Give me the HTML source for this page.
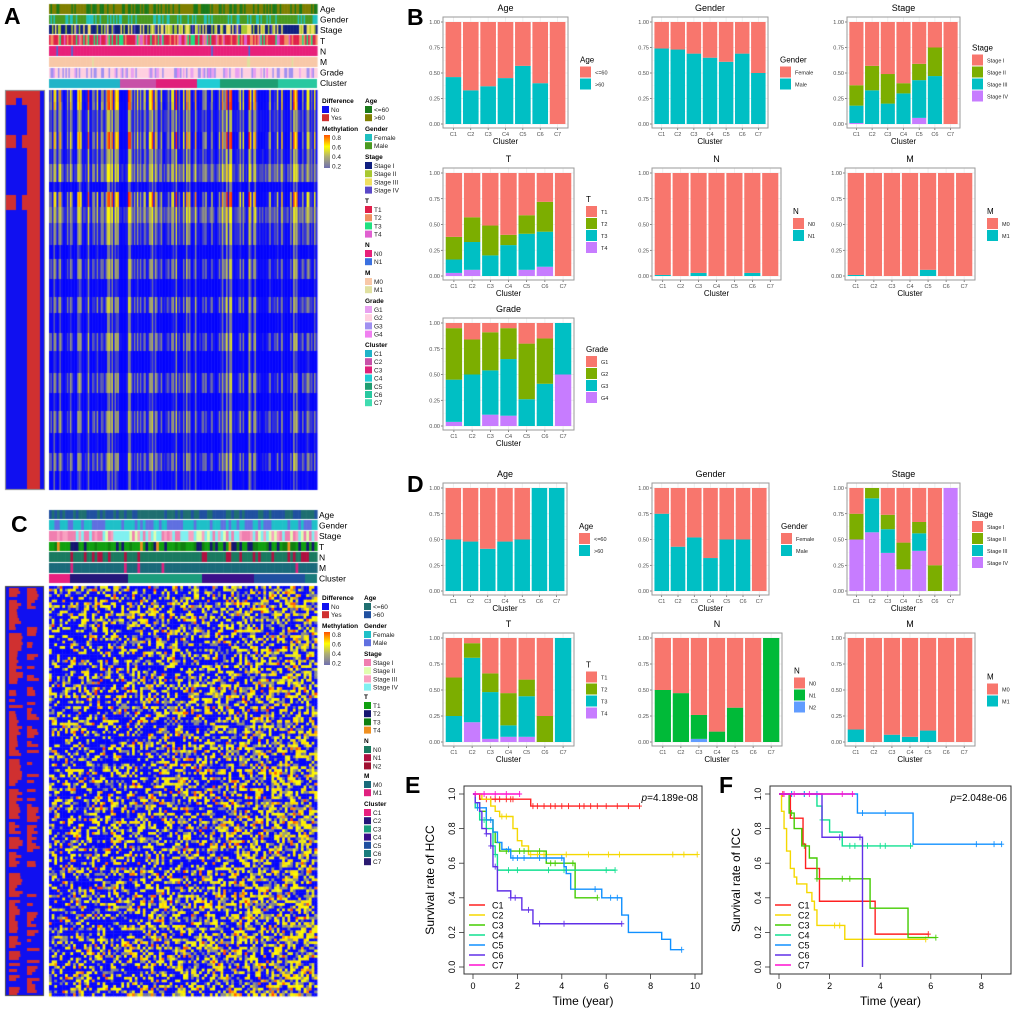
<!DOCTYPE html>
<html><head><meta charset="utf-8">
<style>
html,body{margin:0;padding:0;background:#fff;}
#wrap{position:relative;width:1020px;height:1012px;overflow:hidden;font-family:"Liberation Sans",sans-serif;}
canvas,svg{position:absolute;left:0;top:0;}
</style></head>
<body>
<div id="wrap">
<canvas id="cv" width="1020" height="1012"></canvas>
<svg id="sv" width="1020" height="1012" xmlns="http://www.w3.org/2000/svg"></svg>
</div>
<script>
// ---------- bar chart data (fractions per cluster) ----------
const clusters = ['C1','C2','C3','C4','C5','C6','C7'];
const bAgeOld = [0.46,0.33,0.37,0.45,0.57,0.40,0];
const bMale = [0.74,0.73,0.69,0.65,0.61,0.69,0.50];
const bStageII = [0.20,0.24,0.29,0.10,0.16,0.28,0];
const bStageIII = [0.17,0.33,0.20,0.30,0.37,0.47,0];
const bStageIV = [0.01,0,0,0,0.06,0,0];
const bT2 = [0.22,0.24,0.29,0.10,0.18,0.29,0];
const bT3 = [0.13,0.27,0.20,0.30,0.35,0.34,0];
const bT4 = [0.03,0.06,0,0,0.06,0.09,0];
const bN1 = [0.01,0,0.03,0,0,0.03,0];
const bM1 = [0.01,0,0,0,0.06,0,0];
const bG2 = [0.50,0.34,0.37,0.30,0.54,0.44,0];
const bG3 = [0.41,0.50,0.43,0.55,0.26,0.41,0.50];
const bG4 = [0.04,0,0.11,0.10,0,0,0.50];
const dAgeOld = [0.50,0.48,0.41,0.48,0.50,1,1];
const dMale = [0.75,0.43,0.52,0.32,0.50,0.50,0];
const dStageII = [0.25,0.10,0.14,0.26,0.11,0.25,0];
const dStageIII = [0,0.33,0.23,0,0.17,0,0];
const dStageIV = [0.50,0.57,0.37,0.21,0.39,0,1];
const dT2 = [0.37,0.14,0.18,0.31,0.16,0.25,0];
const dT3 = [0.25,0.62,0.45,0.11,0.39,0,1];
const dT4 = [0,0.19,0.03,0.05,0.05,0,0];
const dN1 = [0.50,0.47,0.23,0.10,0.33,0,1];
const dN2 = [0,0,0.03,0,0,0,0];
const dM1 = [0.12,0,0.07,0.05,0.11,0,0];
const yTicks = [0,0.25,0.5,0.75,1];
const yTickLabels = ['0.00','0.25','0.50','0.75','1.00'];

// ---------- survival data ----------
const survNames = ['C1','C2','C3','C4','C5','C6','C7'];
const survColors = ['#ff2020','#f5d800','#44cc00','#10e090','#1090ff','#6030e8','#ff10d0'];
const eTimes = [[0.3,2.6],[0.4,0.8,1.0,1.2,1.8,2.0,2.2,2.5],[0.1,0.3,0.6,0.9,1.0,1.2,3.3,4.6],[0.1,0.3,0.6,0.9,1.0,1.1],[0.1,0.2,0.6,0.9,1.1,1.3,1.7,4.1,4.2,4.4,5.8,6.7,7.0,8.5,8.9],[0.1,0.3,0.4,0.6,0.8,0.9,1.1,1.7,2.2,2.7],[]];
const eSurv = [[0.97,0.93],[0.97,0.93,0.90,0.87,0.80,0.73,0.70,0.65],[0.95,0.90,0.85,0.78,0.72,0.67,0.60,0.40],[0.92,0.85,0.80,0.70,0.65,0.56],[0.95,0.92,0.85,0.78,0.72,0.68,0.63,0.58,0.54,0.45,0.40,0.30,0.20,0.16,0.10],[0.95,0.90,0.80,0.77,0.70,0.58,0.44,0.40,0.33,0.25],[]];
const eEnd = [7.5,10.1,5.6,6.4,9.4,6.7,2.1];
const eCens = [[0.6,0.8,1.0,1.2,1.5,1.7,1.8,2.7,2.9,3.2,3.5,3.7,4.0,4.3,4.8,5.0,5.3,5.6,6.0,6.5,7.0,7.5],[1.3,1.5,2.6,2.9,3.2,4.2,5.2,6.1,6.6,9.0,9.5,10.1],[1.5,2.1,2.3,3.0,3.5,3.7,4.5,5.6],[0.5,1.0,1.6,2.0,3.4,4.1,6.0,6.4],[0.2,0.8,1.6,1.8,2.0,2.3,3.0,3.3,4.0,5.5,6.2,6.5,9.4],[0.6,0.8,1.0,1.7,1.9,2.5,3.0,4.1,6.7],[0.1,0.5,1.0,1.5,2.1]];
const fTimes = [[0.45,0.95,1.05,1.6,3.8],[0.1,0.2,0.3,0.45,0.6,0.7,1.1,1.3,1.4,1.5,2.6],[0.4,0.6,0.9,1.2,1.5,3.6,5.1],[1.5,1.7,2.0,2.5],[3.1,5.3],[1.7,3.3],[]];
const fSurv = [[0.86,0.71,0.57,0.38,0.19],[0.90,0.80,0.67,0.57,0.52,0.48,0.43,0.38,0.33,0.24,0.16],[0.89,0.80,0.70,0.63,0.51,0.34,0.17],[0.93,0.85,0.78,0.70],[0.89,0.71],[0.75,0.0],[]];
const fEnd = [5.9,5.8,6.2,5.3,8.8,3.3,3.0];
const fCens = [[0.15,5.9],[2.2,2.4,5.8],[0.5,1.0,1.5,2.5,2.8,6.2],[0.5,1.0,1.7,2.8,3.0,3.5,4.0,4.2,5.2],[0.5,1.0,1.5,3.3,4.2,7.8,8.5,8.8],[2.4,3.2],[0.2,0.6,1.2,2.5,2.9]];
const eXTicks = [0,2,4,6,8,10];
const fXTicks = [0,2,4,6,8];
const survYTicks = [0,0.2,0.4,0.6,0.8,1.0];

const NS='http://www.w3.org/2000/svg';
const sv=document.getElementById('sv');
function mk(tag,attrs,parent,text){const e=document.createElementNS(NS,tag);for(const k in attrs)e.setAttribute(k,attrs[k]);if(text!==undefined)e.textContent=text;(parent||sv).appendChild(e);return e;}
function txt(x,y,s,size,opts,parent){const o=Object.assign({x:x,y:y,'font-size':size,'font-family':'Liberation Sans, sans-serif',fill:'#000'},opts||{});return mk('text',o,parent,s);}

// ---------- panel letters ----------
[['A',4,24],['B',407,25],['C',11,532],['D',407,492],['E',405,793],['F',719,793]].forEach(p=>{
  const t=txt(p[1],p[2],p[0],23,{'font-weight':'bold'});
  
  
});

// ---------- stacked bar panels ----------
const pal2=['#F8766D','#00BFC4'];
const pal4=['#F8766D','#7CAE00','#00BFC4','#C77CFF'];
const pal3=['#F8766D','#00BA38','#619CFF'];
function barPanel(id,f,title,levels,colors,layers){
  const g=mk('g',{});
  
  
  const py1=f.y0+5, py0=f.y1-4;
  const ys=v=>py0-v*(py0-py1);
  const unit=(f.x1-f.x0)/7.2;
  const xs=i=>f.x0+(i+0.6)*unit;
  mk('rect',{x:f.x0,y:f.y0,width:f.x1-f.x0,height:f.y1-f.y0,fill:'#fff'},g);
  yTicks.forEach((t,k)=>{
    mk('line',{x1:f.x0,x2:f.x1,y1:ys(t),y2:ys(t),stroke:'#ebebeb','stroke-width':0.8},g);
    if(k<4) mk('line',{x1:f.x0,x2:f.x1,y1:ys(t+0.125),y2:ys(t+0.125),stroke:'#f4f4f4','stroke-width':0.5},g);
    mk('line',{x1:f.x0-2,x2:f.x0,y1:ys(t),y2:ys(t),stroke:'#333','stroke-width':0.6},g);
    const l=txt(f.x0-3,ys(t)+2,yTickLabels[k],5.5,{'text-anchor':'end',fill:'#4d4d4d'},g);
    
    
  });
  clusters.forEach((c,i)=>{
    mk('line',{x1:xs(i),x2:xs(i),y1:f.y0,y2:f.y1,stroke:'#ebebeb','stroke-width':0.8},g);
  });
  clusters.forEach((c,i)=>{
    let cum=0;
    for(let L=layers.length-1;L>=0;L--){
      const v=layers[L][i];
      if(v>0){
        const r=mk('rect',{x:xs(i)-0.45*unit,width:0.9*unit,y:ys(cum+v),height:ys(cum)-ys(cum+v),fill:colors[L+1]},g);
        
        
      }
      cum+=v;
    }
    if(cum<1){
      const r=mk('rect',{x:xs(i)-0.45*unit,width:0.9*unit,y:ys(1),height:ys(cum)-ys(1),fill:colors[0]},g);
      
      
    }
    mk('line',{x1:xs(i),x2:xs(i),y1:f.y1,y2:f.y1+2,stroke:'#333','stroke-width':0.6},g);
    const l=txt(xs(i),f.y1+8,c,5.5,{'text-anchor':'middle',fill:'#4d4d4d'},g);
    
    
  });
  mk('rect',{x:f.x0,y:f.y0,width:f.x1-f.x0,height:f.y1-f.y0,fill:'none',stroke:'#9a9a9a','stroke-width':1},g);
  const xt=txt((f.x0+f.x1)/2,f.y1+16,'Cluster',8,{'text-anchor':'middle'},g);
  
  
  const tt=txt((f.x0+f.x1)/2,f.y0-6,title,9,{'text-anchor':'middle'},g);
  
  
  const n=levels.length, lx=f.x1+12, mid=(f.y0+f.y1)/2;
  const top=mid-(n*12+12)/2;
  const lt=txt(lx,top+8,title,8,{},g);
  
  
  levels.forEach((lv,k)=>{
    const r=mk('rect',{x:lx,y:top+12+k*12,width:11,height:11,fill:colors[k]},g);
    
    
    const l=txt(lx+15,top+20+k*12,lv,5.5,{fill:'#222'},g);
    
    
  });
}
barPanel('b-age-chart',{x0:443,x1:568,y0:17,y1:128},'Age',['<=60','>60'],pal2,[bAgeOld]);
barPanel('b-gender-chart',{x0:652,x1:768,y0:17,y1:128},'Gender',['Female','Male'],pal2,[bMale]);
barPanel('b-stage-chart',{x0:847,x1:960,y0:17,y1:128},'Stage',['Stage I','Stage II','Stage III','Stage IV'],pal4,[bStageII,bStageIII,bStageIV]);
barPanel('b-t-chart',{x0:443,x1:574,y0:168,y1:280},'T',['T1','T2','T3','T4'],pal4,[bT2,bT3,bT4]);
barPanel('b-n-chart',{x0:652,x1:781,y0:168,y1:280},'N',['N0','N1'],pal2,[bN1]);
barPanel('b-m-chart',{x0:845,x1:975,y0:168,y1:280},'M',['M0','M1'],pal2,[bM1]);
barPanel('b-grade-chart',{x0:443,x1:574,y0:318,y1:430},'Grade',['G1','G2','G3','G4'],pal4,[bG2,bG3,bG4]);
barPanel('d-age-chart',{x0:443,x1:567,y0:483,y1:595},'Age',['<=60','>60'],pal2,[dAgeOld]);
barPanel('d-gender-chart',{x0:652,x1:769,y0:483,y1:595},'Gender',['Female','Male'],pal2,[dMale]);
barPanel('d-stage-chart',{x0:847,x1:960,y0:483,y1:595},'Stage',['Stage I','Stage II','Stage III','Stage IV'],pal4,[dStageII,dStageIII,dStageIV]);
barPanel('d-t-chart',{x0:443,x1:574,y0:633,y1:746},'T',['T1','T2','T3','T4'],pal4,[dT2,dT3,dT4]);
barPanel('d-n-chart',{x0:652,x1:782,y0:633,y1:746},'N',['N0','N1','N2'],pal3,[dN1,dN2]);
barPanel('d-m-chart',{x0:845,x1:975,y0:633,y1:746},'M',['M0','M1'],pal2,[dM1]);

// ---------- survival panels ----------
function survPanel(id,box,x0px,pxPerYr,yTitle,pText,times,surv,ends,cens,xticks){
  const g=mk('g',{});
  
  
  const y1=794,y0=967;
  const ys=v=>y0-v*(y0-y1);
  const xs=t=>x0px+t*pxPerYr;
  survNames.forEach((nm,k)=>{
    let d='M'+xs(0)+' '+ys(1);
    times[k].forEach((t,j)=>{d+=' H'+xs(t)+' V'+ys(surv[k][j]);});
    d+=' H'+xs(ends[k]);
    const p=mk('path',{d:d,fill:'none',stroke:survColors[k],'stroke-width':1.4},g);
    
    
    cens[k].forEach(t=>{
      let s=1;times[k].forEach((tt,j)=>{if(tt<=t)s=surv[k][j];});
      const m=mk('path',{d:'M'+(xs(t)-2.5)+' '+ys(s)+' h5 M'+xs(t)+' '+(ys(s)-3)+' v6',stroke:survColors[k],'stroke-width':0.9,fill:'none'},g);
      
      
    });
  });
  mk('rect',{x:box.x0,y:box.y0,width:box.x1-box.x0,height:box.y1-box.y0,fill:'none',stroke:'#333','stroke-width':1},g);
  survYTicks.forEach(v=>{
    mk('line',{x1:box.x0-5,x2:box.x0,y1:ys(v),y2:ys(v),stroke:'#333','stroke-width':0.8},g);
    const l=txt(box.x0-9,ys(v),v.toFixed(1),9,{'text-anchor':'middle',transform:'rotate(-90 '+(box.x0-9)+' '+ys(v)+')'},g);
    
    
  });
  xticks.forEach(v=>{
    mk('line',{x1:xs(v),x2:xs(v),y1:box.y1,y2:box.y1+5,stroke:'#333','stroke-width':0.8},g);
    const l=txt(xs(v),box.y1+15,String(v),9,{'text-anchor':'middle'},g);
    
    
  });
  const xt=txt((box.x0+box.x1)/2,1005,'Time (year)',12,{'text-anchor':'middle'},g);
  
  
  const cy=(box.y0+box.y1)/2, cx=box.x0-30;
  const yt=txt(cx,cy,yTitle,12,{'text-anchor':'middle',transform:'rotate(-90 '+cx+' '+cy+')'},g);
  
  
  const pt=mk('text',{x:box.x1-4,y:801,'font-size':10,'text-anchor':'end','font-family':'Liberation Sans, sans-serif'},g);
  
  
  mk('tspan',{'font-style':'italic'},pt,'p');
  mk('tspan',{},pt,pText);
  survNames.forEach((nm,k)=>{
    const yy=905+k*10;
    const ln=mk('line',{x1:box.x0+5,x2:box.x0+21,y1:yy,y2:yy,stroke:survColors[k],'stroke-width':1.5},g);
    
    
    const l=txt(box.x0+28,yy+3.5,nm,9,{},g);
    
    
  });
}
survPanel('e-survival-chart',{x0:464,x1:702,y0:786,y1:974},473,22.2,'Survival rate of HCC','=4.189e-08',eTimes,eSurv,eEnd,eCens,eXTicks);
survPanel('f-survival-chart',{x0:770,x1:1011,y0:786,y1:974},779,25.3,'Survival rate of ICC','=2.048e-06',fTimes,fSurv,fEnd,fCens,fXTicks);

// ---------- heatmaps (canvas texture) ----------
const cv=document.getElementById('cv').getContext('2d');
let seed=12345;
function rnd(){seed|=0;seed=seed+0x6D2B79F5|0;let t=Math.imul(seed^seed>>>15,1|seed);t=t+Math.imul(t^t>>>7,61|t)^t;return((t^t>>>14)>>>0)/4294967296;}
function pick(w){let r=rnd(),c=0;for(let i=0;i<w.length;i++){c+=w[i];if(r<c)return i;}return w.length-1;}
const hs=[[0,[0,0,255]],[0.2,[10,10,250]],[0.3,[120,120,150]],[0.42,[170,170,100]],[0.55,[255,255,0]],[0.7,[255,160,0]],[0.85,[255,40,0]]];
function heat(v){if(v<=0)return 'rgb(0,0,255)';for(let i=1;i<hs.length;i++){if(v<=hs[i][0]){const a=hs[i-1],b=hs[i],f=(v-a[0])/(b[0]-a[0]);return 'rgb('+a[1].map((c,j)=>Math.round(c+(b[1][j]-c)*f)).join(',')+')';}}return 'rgb(255,40,0)';}
function track(x0,x1,y0,y1,n,w,cols){const cw=(x1-x0)/n;for(let j=0;j<n;j++){cv.fillStyle=cols[pick(w)];cv.fillRect(x0+j*cw,y0,cw+0.6,y1-y0);}}
function segs(x0,y0,y1,list){list.forEach(s=>{cv.fillStyle=s[2];cv.fillRect(s[0],y0,s[1]-s[0],y1-y0);});}
const aTr=[[4,14,[0.45,0.55],['#1a7a1a','#808000']],[15,24,[0.3,0.7],['#20c0c0','#4a9a20']],[25,34,[0.5,0.2,0.25,0.05],['#102080','#a8c830','#f0e060','#5a48c8']],[35,45,[0.55,0.15,0.2,0.1],['#e0204a','#f09060','#20e080','#e060d0']],[46,56,[0.98,0.02],['#e8207a','#3a70e0']],[57,67,[0.985,0.015],['#f8c8a8','#e0e0a0']],[68,78,[0.15,0.55,0.25,0.05],['#e8a0f0','#ffd0e0','#a090f0','#f080f0']]];
aTr.forEach(t=>track(49,317,t[0],t[1],180,t[2],t[3]));
segs(49,79,88,[[49,120,'#20b4c8'],[120,156,'#c850a8'],[156,197,'#e0207a'],[197,220,'#20ccd4'],[220,278,'#1e9e72'],[278,317,'#28c8a0']]);
const aCols=180, aw=268/aCols;
const colF=[];for(let j=0;j<aCols;j++)colF.push(Math.pow(rnd(),2.2));
const bandT={S:[0.08,0.8],G:[0.17,0.32],Y:[0.22,0.38],B:[0.04,0.3]};
const bands=[['S',12],['S',8],['G',22],['S',17],['G',15],['Y',18],['B',10],['S',15],['Y',16],['G',22],['B',14],['G',20],['B',18],['G',16],['B',20],['G',18],['B',22],['G',20],['B',18],['G',22],['B',20],['G',18],['B',19]];
let yy=90;
bands.forEach(b=>{const p=bandT[b[0]];for(let j=0;j<aCols;j++){const v=p[0]+p[1]*colF[j]+(rnd()-0.5)*0.08;cv.fillStyle=heat(v);cv.fillRect(49+j*aw,yy,aw+0.5,b[1]);}yy+=b[1];});
cv.fillStyle='#1010f0';cv.fillRect(5,90,40,400);
cv.fillStyle='#d03030';cv.fillRect(27,90,13,400);
[[90,105],[135,148],[195,210]].forEach(r=>{cv.fillRect(6,r[0],10,r[1]-r[0]);cv.fillRect(22,r[0],5,r[1]-r[0]);});
cv.fillRect(16,90,6,8);
cv.strokeStyle='#888';cv.lineWidth=1;cv.strokeRect(5.5,90.5,39,399);
const cTr=[[510,519,[0.5,0.5],['#1f6f70','#2050a0']],[520,530,[0.55,0.45],['#1fc0c8','#6070e0']],[531,541,[0.35,0.15,0.25,0.25],['#f07fb0','#e0ffb0','#f8a0c0','#80f0f0']],[542,551,[0.6,0.2,0.12,0.08],['#10a010','#151570','#108010','#f09020']],[552,562,[0.8,0.2],['#1a7a60','#b01040']],[563,573,[0.95,0.05],['#1a6a7a','#e0207f']]];
cTr.forEach(t=>track(49,317,t[0],t[1],100,t[2],t[3]));
segs(49,574,583,[[49,70,'#e8207f'],[70,128,'#24167a'],[128,202,'#1a9c7c'],[202,254,'#3a0f8a'],[254,305,'#1f4fa0'],[305,317,'#1a7c7c']]);
const cC=100,cR=150,cw=268/cC,ch=410/cR;
const rowE=[];for(let i=0;i<cR;i++)rowE.push(rnd());
for(let i=0;i<cR;i++)for(let j=0;j<cC;j++){
  const pb=0.64-0.22*(j/cC)+(rowE[i]-0.5)*0.2;
  let v;const r=rnd();
  if(r<pb)v=0.1;else{const q=rnd();v=q<0.3?0.28+rnd()*0.12:(q<0.88?0.5+rnd()*0.12:0.68+rnd()*0.15);}
  cv.fillStyle=heat(v);cv.fillRect(49+j*cw,586+i*ch,cw+0.4,ch+0.4);
}
cv.fillStyle='#1010f0';cv.fillRect(5,586,39,410);
cv.fillStyle='#d03030';
for(let y=588;y<994;y+=3){if(rnd()<0.8)cv.fillRect(9,y,6+rnd()*8,3);if(rnd()<0.55)cv.fillRect(27,y,4+rnd()*9,3);}
cv.strokeStyle='#444';cv.strokeRect(5.5,586.5,38,409);

// ---------- heatmap labels & legends ----------
function label(x,y,s,name){const t=txt(x,y,s,8.5,{});}
['Age','Gender','Stage','T','N','M','Grade','Cluster'].forEach((s,k)=>label(320,12+k*10.6,s,'a-track-label-'+s.toLowerCase()));
['Age','Gender','Stage','T','N','M','Cluster'].forEach((s,k)=>label(319,518+k*10.6,s,'c-track-label-'+s.toLowerCase()));
function leg(x,y,title,items,cols,name){
  const t=txt(x,y,title,6.5,{'font-weight':'bold'});
  
  
  items.forEach((it,k)=>{
    const r=mk('rect',{x:x,y:y+3+k*8.2,width:7,height:7,fill:cols[k]});
    
    
    const l=txt(x+9,y+9+k*8.2,it,6.5,{fill:'#222'});
    
    
  });
}
function gradLeg(x,y,name){
  const t=txt(x,y,'Methylation',6.5,{'font-weight':'bold'});
  
  
  const gid=name+'grad';
  const d=mk('defs',{});const lg=mk('linearGradient',{id:gid,x1:0,y1:1,x2:0,y2:0},d);
  [['0','#7070b0'],['0.35','#b0b070'],['0.65','#ffff00'],['1','#ff5000']].forEach(s=>mk('stop',{offset:s[0],'stop-color':s[1]},lg));
  const r=mk('rect',{x:x+2,y:y+4,width:6,height:33,fill:'url(#'+gid+')'});
  
  
  ['0.8','0.6','0.4','0.2'].forEach((s,k)=>{const l=txt(x+10,y+9+k*9.5,s,6.5,{fill:'#222'});});
}
leg(322,103,'Difference',['No','Yes'],['#1010f0','#d03030'],'a-difference');
gradLeg(322,131,'a');
leg(365,103,'Age',['<=60','>60'],['#1a7a1a','#808000'],'a-age');
leg(365,131,'Gender',['Female','Male'],['#20c0c0','#4a9a20'],'a-gender');
leg(365,159,'Stage',['Stage I','Stage II','Stage III','Stage IV'],['#102080','#a8c830','#f0e060','#5a48c8'],'a-stage');
leg(365,203,'T',['T1','T2','T3','T4'],['#e0204a','#f09060','#20e080','#e060d0'],'a-t');
leg(365,247,'N',['N0','N1'],['#e8207a','#3a70e0'],'a-n');
leg(365,275,'M',['M0','M1'],['#f8c8a8','#e0e0a0'],'a-m');
leg(365,303,'Grade',['G1','G2','G3','G4'],['#e8a0f0','#ffd0e0','#a090f0','#f080f0'],'a-grade');
leg(365,347,'Cluster',['C1','C2','C3','C4','C5','C6','C7'],['#20b4c8','#c850a8','#e0207a','#20ccd4','#1e9e72','#28c8a0','#40dcb0'],'a-cluster');
leg(322,600,'Difference',['No','Yes'],['#1010f0','#d03030'],'c-difference');
gradLeg(322,628,'c');
leg(364,600,'Age',['<=60','>60'],['#1f6f70','#2050a0'],'c-age');
leg(364,628,'Gender',['Female','Male'],['#1fc0c8','#6070e0'],'c-gender');
leg(364,656,'Stage',['Stage I','Stage II','Stage III','Stage IV'],['#f07fb0','#e0ffb0','#f8a0c0','#80f0f0'],'c-stage');
leg(364,699,'T',['T1','T2','T3','T4'],['#10a010','#151570','#108010','#f09020'],'c-t');
leg(364,743,'N',['N0','N1','N2'],['#1a7a60','#b01040','#a01030'],'c-n');
leg(364,778,'M',['M0','M1'],['#1a6a7a','#e0207f'],'c-m');
leg(364,806,'Cluster',['C1','C2','C3','C4','C5','C6','C7'],['#e8207f','#24167a','#1a9c7c','#3a0f8a','#1f4fa0','#1a7c7c','#2a1a70'],'c-cluster');
</script>
</body></html>
